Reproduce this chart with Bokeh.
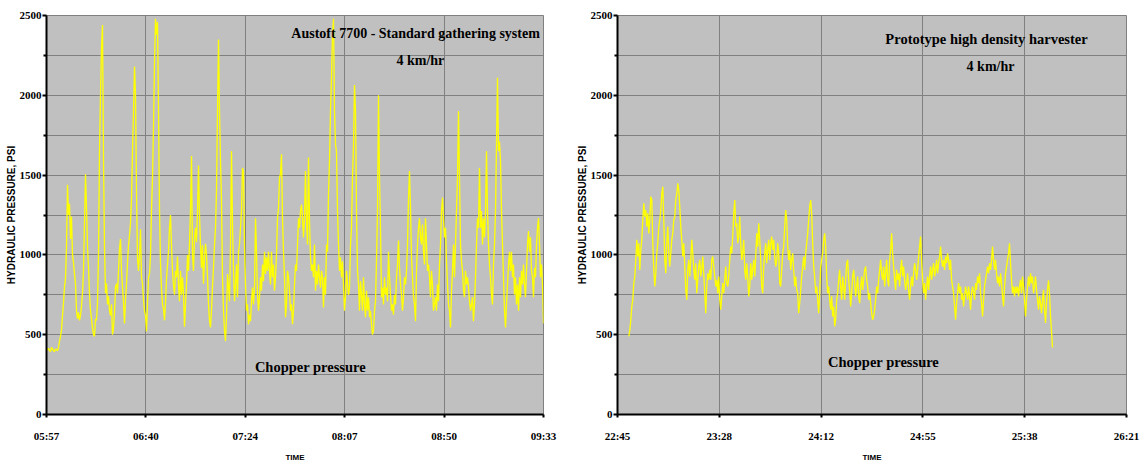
from bokeh.plotting import figure
from bokeh.layouts import row
from bokeh.models import Range1d, FixedTicker, Label
from bokeh.embed import file_html
from bokeh.resources import INLINE
import numpy as np

# ---------------- data ----------------
# time axis in seconds from the first tick; 216 min span split in 5 intervals
x_ticks = [0, 2592, 5184, 7776, 10368, 12960]
left_tick_labels = ["05:57", "06:40", "07:24", "08:07", "08:50", "09:33"]
right_tick_labels = ["22:45", "23:28", "24:12", "24:55", "25:38", "26:21"]
y_major = [0, 500, 1000, 1500, 2000, 2500]
y_minor = [250, 750, 1250, 1750, 2250]

# Austoft 7700 chopper pressure (PSI), samples ~26 s apart from 05:57 to 09:33
left_psi = [
    410, 405, 415, 400, 395, 420, 410, 400, 395, 410, 405, 400, 420, 460,
    490, 530, 620, 700, 800, 850, 1050, 1440, 1250, 1320,
    1100, 1240, 1000, 950, 880, 820, 650, 600, 640, 590,
    620, 680, 760, 900, 1200, 1505, 1300, 1050, 920, 760,
    650, 600, 540, 500, 490, 600, 590, 700, 1000, 1650,
    2000, 2300, 2440, 1600, 1050, 760, 820, 690, 740, 650,
    620, 690, 500, 540, 640, 800, 820, 760, 900, 1040,
    1100, 900, 800, 700, 570, 720, 820, 950, 1060, 1120,
    1200, 1350, 1650, 1900, 2180, 2000, 1400, 980, 900, 1000,
    1160, 860, 820, 720, 650, 620, 520, 700, 860, 880,
    1000, 1280, 1480, 1800, 2200, 2480, 2380, 2460, 1900, 1280,
    950, 790, 690, 660, 590, 700, 850, 940, 1020, 1170,
    1250, 1060, 900, 810, 750, 900, 860, 990, 810, 710,
    900, 750, 860, 750, 550, 690, 820, 1000, 900, 1070,
    1280, 1620, 1000, 900, 1100, 1170, 1080, 1270, 1560, 1250,
    1060, 920, 1060, 820, 980, 1070, 1000, 860, 690, 590,
    545, 650, 800, 920, 1060,
    1170, 1400, 1900, 2350, 1900, 1590, 1340, 860, 650, 525,
    460, 610, 880, 800, 710, 1065, 1650, 1190, 900, 710,
    815, 940, 735, 1020, 1065, 1170, 1275, 1545, 1525, 1065,
    815, 650, 690, 565, 625, 585, 710, 795, 690, 795,
    1230, 1020, 750, 650, 735, 860, 775, 940, 835, 1020,
    880, 985, 900, 1020, 900, 815, 1020, 860, 940, 775,
    860, 1000, 1230, 1295, 1485, 1505, 1630, 1230, 1020, 860,
    610, 690, 900, 860, 775, 650, 690, 565, 650, 815,
    940, 900, 1065, 1230, 1170, 1275, 1315, 1230, 1110, 1230,
    1525, 1230, 1065, 1610, 1210, 985, 900, 940, 860, 1065,
    775, 900, 815, 940, 860, 795, 900, 860, 670, 860,
    750, 1065, 1020, 1380, 1590, 1900, 2110, 2380, 2480, 1900,
    1690, 1650, 1275, 1065, 900, 985, 860, 960, 815, 650,
    735, 900, 815, 750, 795, 1065, 1170, 1485, 1690, 2065,
    1900, 1275, 900, 815, 650, 835, 750, 650, 860, 690,
    610, 775, 650, 735, 610, 650, 565, 500, 525, 650,
    710, 960, 1275, 2000, 1485, 1170,
    735, 795, 690, 860, 750, 795, 710, 1020, 860, 750,
    650, 690, 625, 750, 690, 860, 940, 1090, 920, 815,
    750, 650, 735, 860, 815, 900, 1065, 1360, 1525, 1295,
    985, 860, 735, 690, 585, 900, 1065, 1170, 1230, 1110,
    1065, 1190, 1020, 940, 1230, 1065, 900, 940, 860, 735,
    900, 815, 650, 690, 735, 650, 815, 710, 940, 1065,
    1275, 1360, 1230, 1110, 1170, 960, 815, 690, 650, 545,
    775, 900, 1065, 860, 1065, 1275, 1485, 1900, 1485, 1065,
    960, 900, 775, 735, 900, 815, 860, 795, 710, 650,
    690, 735, 585, 690, 860, 1065, 1230, 1170, 1545, 1170,
    1275, 1065, 1230, 1110, 1275, 1650, 1275, 1065, 940, 860,
    750, 690, 940, 1065, 1275, 1690, 2110, 1650, 1710, 1590,
    1275, 1065, 860, 650, 545, 690, 815, 940, 1020, 900,
    1020, 860, 940, 750, 860, 690, 815, 650, 860, 735,
    900, 815, 940, 815, 735, 900, 1065, 1150, 1020, 1110,
    900, 860, 735, 920, 860, 1065, 1170, 1230, 1065, 860,
    940, 815, 570,
]

# Prototype high density harvester chopper pressure (PSI)
right_first_s = 288     # first sample, seconds after 22:45
right_last_s = 11076    # last sample, seconds after 22:45
right_psi = [
    490, 530, 594, 677, 720, 823, 865, 969, 1094, 990, 1073, 906, 1031, 1094, 1219,
    1323, 1240, 1281, 1177, 1260, 1135, 1219, 1365, 1344, 1073, 906, 802, 885, 1010,
    1073, 1177, 1219, 1281, 1385, 1427, 1219, 969, 885, 1073, 1177, 1010, 927, 1010,
    1094, 1135, 1219, 1240, 1344, 1385, 1448, 1406, 1302, 1177, 1094, 990, 1073, 927,
    781, 719, 906, 969, 865, 969, 1094, 1010, 906, 844, 948, 760, 844, 927, 969, 865,
    906, 990, 885, 760, 635, 802, 885, 844, 906, 844, 969, 990, 927, 865, 802, 844,
    760, 865, 719, 656, 740, 823, 760, 844, 927, 823, 802, 865, 969, 1052, 1010, 1115,
    1260, 1344, 1177, 1198, 1073, 1115, 1240, 1073, 969, 1010, 1094, 906, 844, 948,
    865, 740, 802, 948, 844, 906, 969, 865, 990, 1135, 1052, 1198, 1094, 969, 802,
    760, 927, 1010, 1073, 948, 1031, 1094, 969, 1073, 1115, 1031, 1094, 990, 927, 969,
    1073, 1010, 823, 802, 906, 1010, 1052, 1177, 1281, 1219, 1052, 969, 1031, 906, 969,
    1010, 906, 802, 865, 781, 760, 635, 698, 781, 865, 927, 990, 906, 1010, 1073, 1135,
    1219, 1302, 1344, 1260, 1073, 927, 865, 760, 802, 719, 635, 760, 927, 969, 1010,
    1094, 1135, 1052, 865, 760, 802, 719, 656, 740, 615, 677, 552, 594, 719, 760, 844,
    906, 802, 719, 865, 802, 719, 844, 948, 969, 844, 781, 677, 760, 865, 906, 823, 740,
    802, 865, 740, 698, 802, 865, 781, 844, 906, 927, 844, 802, 719, 760, 698, 635, 594,
    615, 656, 719, 802, 760, 844, 906, 969, 885, 844, 927, 802, 885, 969, 844, 802, 969,
    1031, 1135, 1010, 927, 844, 781, 906, 844, 885, 802, 906, 969, 865, 927, 844, 781,
    823, 885, 781, 719, 802, 865, 802, 885, 948, 906, 844, 906, 990, 1052, 1115, 969,
    844, 760, 823, 719, 802, 865, 781, 865, 927, 844, 906, 948, 865, 906, 969, 885, 948,
    990, 1052, 969, 927, 969, 906, 990, 948, 1010, 969, 906, 969, 844, 802, 760, 677,
    594, 698, 760, 823, 760, 802, 719, 760, 677, 740, 802, 760, 719, 802, 740, 656, 760,
    802, 760, 719, 823, 781, 865, 823, 885, 760, 698, 615, 719, 802, 844, 885, 927, 885,
    948, 906, 969, 1052, 969, 906, 969, 885, 823, 865, 802, 885, 823, 740, 677, 802,
    885, 927, 969, 1010, 1073, 948, 844, 760, 802, 740, 802, 760, 802, 740, 802, 844,
    760, 865, 802, 719, 615, 719, 802, 865, 802, 885, 823, 865, 760, 802, 865, 781, 719,
    656, 740, 698, 635, 719, 781, 656, 573, 700, 780, 840, 760, 620, 520, 420,
]

left_t = np.linspace(x_ticks[0], x_ticks[-1], len(left_psi))
right_t = np.linspace(right_first_s, right_last_s, len(right_psi))

SERIF = "Liberation Serif"
SANS = "Liberation Sans"


def make_panel(t, psi, tick_labels, notes, width, min_left, min_right):
    p = figure(width=width, height=464, output_backend="svg", toolbar_location=None,
               x_range=Range1d(x_ticks[0], x_ticks[-1]), y_range=Range1d(0, 2500),
               min_border_left=min_left, min_border_right=min_right,
               min_border_top=15, min_border_bottom=50)
    p.background_fill_color = "#C0C0C0"
    p.border_fill_color = "white"
    p.outline_line_color = "#808080"
    p.outline_line_width = 1

    p.line(t, psi, color="#FFFF00", line_width=1.3)

    # grids
    p.xgrid.ticker = FixedTicker(ticks=x_ticks)
    p.ygrid.ticker = FixedTicker(ticks=sorted(y_major + y_minor))
    for g in (p.xgrid, p.ygrid):
        g.grid_line_color = "#808080"
        g.grid_line_width = 1

    # x axis
    xa = p.xaxis[0]
    xa.ticker = FixedTicker(ticks=x_ticks)
    xa.major_label_overrides = {tk: lab for tk, lab in zip(x_ticks, tick_labels)}
    xa.axis_label = "TIME"
    xa.axis_label_text_font = SANS
    xa.axis_label_text_font_style = "bold"
    xa.axis_label_text_font_size = "8px"
    xa.axis_label_standoff = 8
    xa.minor_tick_line_color = None
    xa.major_tick_in = 0
    xa.major_tick_out = 3
    xa.major_label_standoff = 12

    # y axis
    ya = p.yaxis[0]
    ya.ticker = FixedTicker(ticks=y_major, minor_ticks=y_minor)
    ya.axis_label = "HYDRAULIC PRESSURE, PSI"
    ya.axis_label_text_font = SANS
    ya.axis_label_text_font_style = "bold"
    ya.axis_label_text_font_size = "10px"
    ya.axis_label_standoff = 0
    ya.major_tick_in = 0
    ya.major_tick_out = 4
    ya.minor_tick_in = 0
    ya.minor_tick_out = 3
    ya.major_label_standoff = 1

    for ax in (xa, ya):
        ax.axis_line_color = "black"
        ax.axis_line_width = 2
        ax.major_tick_line_color = "black"
        ax.major_tick_line_width = 2
        ax.major_label_text_font = SERIF
        ax.major_label_text_font_style = "bold"
        ax.major_label_text_font_size = "11px"
        ax.major_label_text_color = "black"
        ax.axis_label_text_color = "black"
    ya.minor_tick_line_color = "black"
    ya.minor_tick_line_width = 2

    for (x, y, txt, size) in notes:
        p.add_layout(Label(x=x, y=y, text=txt, text_align="center", text_baseline="middle",
                           text_font=SERIF, text_font_style="bold",
                           text_font_size=size, text_color="black"))
    return p


left_notes = [
    (9624, 2387, "Austoft 7700 - Standard gathering system", "14px"),
    (9750, 2218, "4 km/hr", "14px"),
    (6882, 300, "Chopper pressure", "14.5px"),
]
right_notes = [
    (9396, 2350, "Prototype high density harvester", "14.5px"),
    (9498, 2180, "4 km/hr", "14px"),
    (6774, 326, "Chopper pressure", "14.5px"),
]

p1 = make_panel(left_t, left_psi, left_tick_labels, left_notes, 568, 46, 25)
p2 = make_panel(right_t, right_psi, right_tick_labels, right_notes, 574, 49, 16)

layout = row(p1, p2)
open("out.html", "w").write(file_html(layout, INLINE))
